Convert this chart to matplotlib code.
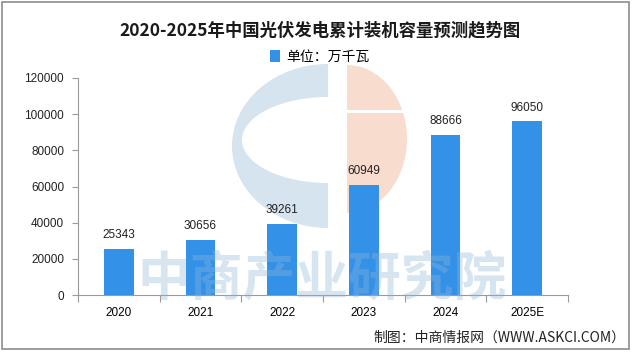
import matplotlib
matplotlib.use("Agg")
import matplotlib.pyplot as plt
from matplotlib.patches import Ellipse, Rectangle, Patch

plt.rcParams['font.family'] = ['Noto Sans CJK SC', 'DejaVu Sans']

# data
years = ["2020", "2021", "2022", "2023", "2024", "2025E"]
capacity = [25343, 30656, 39261, 60949, 88666, 96050]
y_ticks = [0, 20000, 40000, 60000, 80000, 100000, 120000]

title = "2020-2025年中国光伏发电累计装机容量预测趋势图"
series_name = "单位：万千瓦"
source = "制图：中商情报网（WWW.ASKCI.COM）"

bar_color = "#3391e8"
axis_gray = "#9a9a9a"

fig = plt.figure(figsize=(6.4, 3.58), dpi=100)

# watermark logo in the background (pixel coordinates)
bg = fig.add_axes([0, 0, 1, 1], zorder=0)
bg.set_xlim(0, 640)
bg.set_ylim(358, 0)
bg.axis("off")

blue_wm = "#d6e4f0"
orange_wm = "#f8ddcf"
left_clip = Rectangle((0, 0), 328, 358, transform=bg.transData)
right_clip = Rectangle((347, 0), 300, 358, transform=bg.transData)

outer = Ellipse((328, 146), 192, 164, facecolor=blue_wm, edgecolor="none")
bg.add_patch(outer)
outer.set_clip_path(left_clip)
inner = Ellipse((328, 140), 172, 86, facecolor="white", edgecolor="none")
bg.add_patch(inner)
inner.set_clip_path(left_clip)

orange = Ellipse((347, 139), 120, 148, facecolor=orange_wm, edgecolor="none")
bg.add_patch(orange)
orange.set_clip_path(right_clip)
bg.add_patch(Rectangle((347, 110), 70, 3, facecolor="white", edgecolor="none"))

# frame around the picture
bg.add_patch(Rectangle((2, 2), 627, 347, facecolor="none", edgecolor="#8c8c8c", linewidth=1.2))

# main chart
ax = fig.add_axes([78 / 640, 1 - 295 / 358, 490 / 640, 217 / 358], zorder=1)
ax.patch.set_alpha(0)

x = range(len(years))
bars = ax.bar(x, capacity, width=0.36, color=bar_color, zorder=2)
for xi, v in zip(x, capacity):
    ax.text(xi, v + 4300, str(v), ha="center", va="bottom", fontsize=8.5,
            family=["Liberation Sans", "DejaVu Sans"], color="#222222")

ax.set_xlim(-0.5, len(years) - 0.5)
ax.set_ylim(0, 120000)
ax.set_yticks(y_ticks)
ax.set_yticklabels([str(t) for t in y_ticks], family=["Liberation Sans", "DejaVu Sans"], fontsize=8.5)

ax.set_xticks([i - 0.5 for i in range(len(years) + 1)])
ax.set_xticklabels([])
ax.set_xticks(list(x), minor=True)
ax.set_xticklabels(years, minor=True, family=["Liberation Sans", "DejaVu Sans"], fontsize=8.5)
ax.tick_params(axis="x", which="minor", length=0, pad=9)
ax.tick_params(axis="x", which="major", length=5, color=axis_gray, direction="out")
ax.tick_params(axis="y", length=4, color=axis_gray, pad=6, labelcolor="#222222")

for s in ["top", "right"]:
    ax.spines[s].set_visible(False)
for s in ["left", "bottom"]:
    ax.spines[s].set_color(axis_gray)

fig.text(0.5, 1 - 30 / 358, title, ha="center", va="center", fontsize=12.5,
         fontweight="bold", color="#1a1a1a")
fig.legend(handles=[Patch(facecolor=bar_color, label=series_name)],
           loc="center", bbox_to_anchor=(0.5, 1 - 57 / 358), frameon=False,
           fontsize=10, handlelength=0.7, handleheight=0.9, handletextpad=0.5)

fig.text(625 / 640, 1 - 338 / 358, source, ha="right", va="center", fontsize=10, color="#222222")

# watermark text on top
fig.text(322 / 640, 1 - 279 / 358, "中商产业研究院", ha="center", va="center",
         fontsize=38, fontweight="bold", color="#8fb6d8", alpha=0.35, zorder=5)

fig.savefig("out.png", dpi=100)
